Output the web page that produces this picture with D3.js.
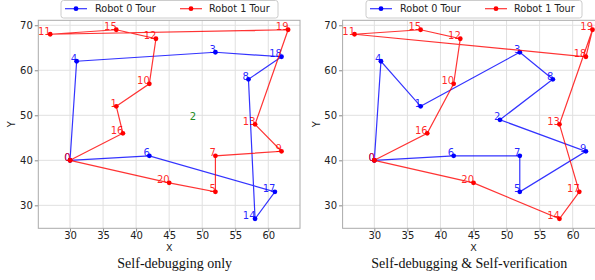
<!DOCTYPE html>
<html><head><meta charset="utf-8">
<script src="https://cdn.jsdelivr.net/npm/d3@7"></script>
<style>body{margin:0;background:#fff} svg{display:block}</style>
</head><body>
<svg id="c" width="595" height="280"></svg>
<script>
const nodeX = [30,37,49,52,31,52,42,52,57,62,42,27,43,58,58,37,38,61,62,63,45];
const nodeY = [40,52,49,64,62,33,41,41,58,42,57,68,67,48,27,69,46,33,63,69,35];
const leftRobot0 = [0,4,3,18,8,14,17,6,0];
const leftRobot1 = [0,16,1,10,12,15,11,19,13,9,7,5,20,0];
const leftUnvisited = [2];
const rightRobot0 = [0,4,1,3,8,2,9,5,7,6,0];
const rightRobot1 = [0,16,10,12,15,11,18,19,13,17,14,20,0];
const rightUnvisited = [];
const xTicks = [30,35,40,45,50,55,60];
const yTicks = [30,40,50,60,70];
const seriesNames = ["Robot 0 Tour","Robot 1 Tour"];
const seriesColors = ["#0000ff","#ff0000"];
const titles = ["Self-debugging only","Self-debugging & Self-verification"];

const svg = d3.select("#c");
const yTop = 20.3, yBot = 228.3;
const panels = [
  {l:38.3, r:300, tours:[leftRobot0,leftRobot1], unv:leftUnvisited, title:titles[0], lx:61, lw:217, tx:174.7},
  {l:342.6, r:604.4, tours:[rightRobot0,rightRobot1], unv:rightUnvisited, title:titles[1], lx:366, lw:216, tx:469.3}
];
const font = "DejaVu Sans, sans-serif";

panels.forEach(p => {
  const x = d3.scaleLinear().domain([25.2,64.8]).range([p.l,p.r]);
  const y = d3.scaleLinear().domain([24.9,71.1]).range([yBot,yTop]);
  const g = svg.append("g");
  // grid
  g.selectAll(null).data(xTicks).join("line")
    .attr("x1",d=>x(d)).attr("x2",d=>x(d)).attr("y1",yTop).attr("y2",yBot)
    .attr("stroke","#e0e0e0").attr("stroke-width",1);
  g.selectAll(null).data(yTicks).join("line")
    .attr("x1",p.l).attr("x2",p.r).attr("y1",d=>y(d)).attr("y2",d=>y(d))
    .attr("stroke","#e0e0e0").attr("stroke-width",1);
  // axes
  const ax = g.append("g").attr("transform",`translate(0,${yBot})`)
    .call(d3.axisBottom(x).tickValues(xTicks).tickSize(3.5).tickPadding(0.5));
  const ay = g.append("g").attr("transform",`translate(${p.l},0)`)
    .call(d3.axisLeft(y).tickValues(yTicks).tickSize(3.5).tickPadding(2));
  [ax,ay].forEach(a => {
    a.select(".domain").remove();
    a.selectAll("line").attr("stroke","#888");
    a.selectAll("text").attr("font-family",font).attr("font-size","10px").attr("fill","#222");
  });
  g.append("rect").attr("x",p.l).attr("y",yTop).attr("width",p.r-p.l).attr("height",yBot-yTop)
    .attr("fill","none").attr("stroke","#aaa").attr("stroke-width",1);
  // tours
  const line = d3.line().x(i=>x(nodeX[i])).y(i=>y(nodeY[i]));
  p.tours.forEach((t,k) => {
    const c = seriesColors[k];
    g.append("path").attr("d",line(t)).attr("fill","none").attr("stroke",c)
      .attr("stroke-width",1.2).attr("stroke-opacity",0.8);
    g.selectAll(null).data(t).join("circle")
      .attr("cx",i=>x(nodeX[i])).attr("cy",i=>y(nodeY[i])).attr("r",2.4).attr("fill",c);
    const labs = Array.from(new Set(t));
    g.selectAll(null).data(labs).join("text")
      .attr("x",i=>x(nodeX[i])+0.5).attr("y",i=>y(nodeY[i])+0.3)
      .attr("text-anchor","end").attr("font-family",font).attr("font-size","10px")
      .attr("fill",c).attr("fill-opacity",0.85).text(i=>i);
  });
  g.selectAll(null).data(p.unv).join("text")
    .attr("x",i=>x(nodeX[i])+0.5).attr("y",i=>y(nodeY[i])+0.3)
    .attr("text-anchor","end").attr("font-family",font).attr("font-size","10px")
    .attr("fill","#228b22").text(i=>i);
  // axis labels
  g.append("text").attr("x",(p.l+p.r)/2).attr("y",251).attr("text-anchor","middle")
    .attr("font-family",font).attr("font-size","9.5px").attr("fill","#222").text("X");
  g.append("text").attr("transform",`translate(${p.l-23},${(yTop+yBot)/2}) rotate(-90)`)
    .attr("text-anchor","middle").attr("font-family",font).attr("font-size","10px").attr("fill","#222").text("Y");
  // title
  g.append("text").attr("x",p.tx).attr("y",268)
    .attr("text-anchor","middle").attr("font-family","Liberation Serif, Times New Roman, serif")
    .attr("font-size","14px").attr("fill","#111").text(p.title);
  // legend
  const lg = g.append("g");
  lg.append("rect").attr("x",p.lx).attr("y",0.5).attr("width",p.lw).attr("height",17.5).attr("rx",2.5)
    .attr("fill","#fff").attr("stroke","#ccc").attr("stroke-width",1);
  const offs = [[4,26,34],[119,141,148]];
  seriesNames.forEach((n,k) => {
    const [a,b,tx] = offs[k];
    lg.append("line").attr("x1",p.lx+a).attr("x2",p.lx+b).attr("y1",8.7).attr("y2",8.7)
      .attr("stroke",seriesColors[k]).attr("stroke-width",1.2).attr("stroke-opacity",0.8);
    lg.append("circle").attr("cx",p.lx+(a+b)/2).attr("cy",8.7).attr("r",2.4).attr("fill",seriesColors[k]);
    lg.append("text").attr("x",p.lx+tx).attr("y",12.3).attr("font-family",font).attr("font-size","9.7px")
      .attr("fill","#222").text(n);
  });
});
</script>
</body></html>
